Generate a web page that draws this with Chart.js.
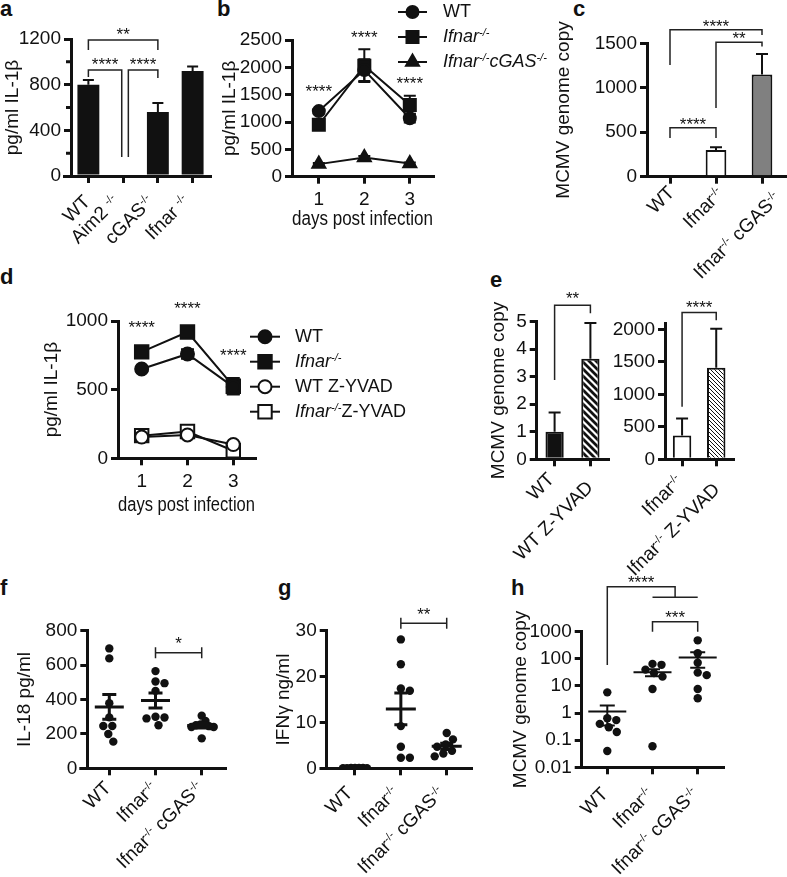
<!DOCTYPE html>
<html><head><meta charset="utf-8">
<script src="https://cdn.jsdelivr.net/npm/chart.js@4.4.1/dist/chart.umd.min.js"></script>
<style>
html,body{margin:0;padding:0;background:#fff}
body{position:relative;width:787px;height:877px;overflow:hidden;font-family:"Liberation Sans",Arial,sans-serif}
canvas{position:absolute}
.pl{position:absolute;font-weight:bold;font-size:22px;line-height:22px;color:#111}
</style></head><body>
<div class="pl" style="left:0px;top:-2px">a</div>
<div class="pl" style="left:217px;top:-2px">b</div>
<div class="pl" style="left:573px;top:-2px">c</div>
<div class="pl" style="left:0px;top:266px">d</div>
<div class="pl" style="left:490px;top:269px">e</div>
<div class="pl" style="left:0px;top:577px">f</div>
<div class="pl" style="left:278px;top:577px">g</div>
<div class="pl" style="left:511px;top:577px">h</div>
<script>
const FONT = '"Liberation Sans", Arial, Helvetica, sans-serif';
const INK = '#111';
Chart.defaults.font.family = FONT;
Chart.defaults.font.size = 19;
Chart.defaults.color = INK;

// ===================== DATA =====================
// panel a
const aCats = ['WT', 'Aim2 -/-', 'cGAS-/-', 'Ifnar -/-'];
const aIL1b = [800, 0, 560, 920];
const aErr = [40, 0, 80, 40];
const aYTicks = [0, 400, 800, 1200];
const aYMinor = [200, 600, 1000];
const aSig = [
  {x1: 0, x2: 2, y: 1191, l1: 1104, l2: 1104, text: '**'},
  {x1: 0, x2: 0.96, y: 928, l1: 867, l2: 166, text: '****'},
  {x1: 1.15, x2: 2, y: 928, l1: 166, l2: 858, text: '****'}
];
// panel b
const bDays = [1, 2, 3];
const bSeries = ['WT', 'Ifnar-/-', 'Ifnar-/-cGAS-/-'];
const bWT = [1200, 1950, 1070];
const bWTErr = [40, 200, 80];
const bIfnar = [950, 2030, 1310];
const bIfnarErr = [40, 300, 170];
const bIfnarCgas = [230, 350, 240];
const bIfnarCgasErr = [20, 30, 20];
const bYTicks = [0, 500, 1000, 1500, 2000, 2500];
const bStars = [{x: 1, y: 1640, text: '****'}, {x: 2, y: 2628, text: '****'}, {x: 3, y: 1783, text: '****'}];
// panel c
const cCats = ['WT', 'Ifnar-/-', 'Ifnar-/- cGAS-/-'];
const cMCMV = [0, 300, 1150];
const cErr = [0, 30, 230];
const cYTicks = [0, 500, 1000, 1500];
const cSig = [
  {x1: 0, x2: 2, y: 1651, l1: 1257, l2: 1594, text: '****'},
  {x1: 1, x2: 2, y: 1512, l1: 773, l2: 1463, text: '**'},
  {x1: 0, x2: 1, y: 551, l1: 435, l2: 435, text: '****'}
];
// panel d
const dDays = [1, 2, 3];
const dSeries = ['WT', 'Ifnar-/-', 'WT Z-YVAD', 'Ifnar-/-Z-YVAD'];
const dWT = [650, 760, 520];     const dWTErr = [15, 35, 50];
const dIfnar = [775, 920, 525];  const dIfnarErr = [15, 15, 60];
const dWTz = [155, 170, 100];    const dWTzErr = [10, 15, 10];
const dIfnarZ = [165, 195, 55];  const dIfnarZErr = [10, 10, 10];
const dYTicks = [0, 500, 1000];
const dStars = [{x: 1, y: 983, text: '****'}, {x: 2, y: 1124, text: '****'}, {x: 3, y: 781, text: '****'}];
// panel e
const e1Cats = ['WT', 'WT Z-YVAD'];
const e1MCMV = [1.0, 3.65];
const e1Err = [0.7, 1.3];
const e1YTicks = [0, 1, 2, 3, 4, 5];
const e1Sig = [{x1: 0, x2: 1, y: 5.6, l1: 2.88, l2: 5.31, text: '**'}];
const e2Cats = ['Ifnar-/-', 'Ifnar-/- Z-YVAD'];
const e2MCMV = [365, 1410];
const e2Err = [265, 600];
const e2YTicks = [0, 500, 1000, 1500, 2000];
const e2Sig = [{x1: 0, x2: 1, y: 2262, l1: 809, l2: 2143, text: '****'}];
// panels f, g, h
const fghCats = ['WT', 'Ifnar-/-', 'Ifnar-/- cGAS-/-'];
const fWT = [697, 639, 378, 296, 246, 246, 199, 155];
const fIfnar = [565, 505, 495, 450, 300, 295, 290, 250];
const fIfnarCgas = [306, 275, 255, 250, 245, 240, 240, 174];
const fYTicks = [0, 200, 400, 600, 800];
const fSig = [{x1: 1, x2: 2, y: 672, kind: 'H', text: '*'}];
const gWT = [0.10, 0.05, 0.08, 0.02, 0.06, 0.03, 0.04];
const gIfnar = [28.1, 22.7, 17.4, 16.9, 9.2, 4.7, 2.3, 2.3];
const gIfnarCgas = [7.7, 6.3, 5.2, 4.7, 3.8, 3.2, 2.6];
const gYTicks = [0, 10, 20, 30];
const gSig = [{x1: 1, x2: 2, y: 31.6, kind: 'H', text: '**'}];
const hWT = [5.8, 0.64, 0.55, 0.4, 0.3, 0.2, 0.04];
const hIfnar = [65, 60, 40, 30, 22, 7.7, 0.06];
const hIfnarCgas = [480, 160, 72, 31, 25, 7.7, 3.5];
const hYTicks = [0.01, 0.1, 1, 10, 100, 1000];
const hSig = [
  {x1: 0, x2: 1.5, y: 45700, l1: 59, l2: 18600, text: '****'},
  {x1: 1, x2: 2, y: 18600, kind: 'line'},
  {x1: 1, x2: 2, y: 2340, l1: 1000, l2: 1000, text: '***'}
];

// ===================== HELPERS =====================
const decoMap = {};
function fontStr(fs, it) { return (it ? 'italic ' : '') + fs + 'px ' + FONT; }
function richSegs(text, italicGenes) {
  const parts = text.split('-/-'); const segs = [];
  parts.forEach((p, i) => {
    if (p) {
      if (italicGenes) {
        p.split(/(Ifnar|cGAS|Aim2)/).forEach(w => { if (w) segs.push({t: w, it: /^(Ifnar|cGAS|Aim2)$/.test(w)}); });
      } else segs.push({t: p});
    }
    if (i < parts.length - 1) segs.push({t: '-/-', sup: true, it: !!italicGenes});
  });
  return segs;
}
function richWidth(ctx, text, fs, italicGenes) {
  let w = 0;
  richSegs(text, italicGenes).forEach(s => { ctx.font = fontStr(s.sup ? Math.round(fs * 0.6) : fs, s.it); w += ctx.measureText(s.t).width; });
  return w;
}
function drawRich(ctx, text, x, y, fs, align, italicGenes) {
  const segs = richSegs(text, italicGenes);
  let w = 0;
  segs.forEach(s => { ctx.font = fontStr(s.sup ? Math.round(fs * 0.6) : fs, s.it); s.w = ctx.measureText(s.t).width; w += s.w; });
  let cx = align === 'right' ? x - w : x;
  ctx.textAlign = 'left';
  segs.forEach(s => {
    ctx.font = fontStr(s.sup ? Math.round(fs * 0.6) : fs, s.it);
    ctx.fillText(s.t, cx, s.sup ? y - fs * 0.22 : y);
    cx += s.w;
  });
}
function drawStars(ctx, text, cx, cy, fs) {
  ctx.font = fontStr(fs, false); ctx.textAlign = 'center'; ctx.textBaseline = 'alphabetic';
  ctx.fillStyle = INK; ctx.fillText(text, cx, cy + 0.58 * fs);
}
function alignPx(p, w) { return Math.round(p - w / 2) + w / 2; }

Chart.register({
  id: 'deco',
  beforeDatasetsDraw(chart) {
    const d = decoMap[chart.canvas.id]; if (!d) return;
    const ctx = chart.ctx, ys = chart.scales.y, a = chart.chartArea;
    ctx.save();
    ctx.strokeStyle = INK; ctx.fillStyle = INK;
    if (d.ext) {
      ctx.lineWidth = 3; ctx.beginPath();
      const yb = alignPx(a.bottom, 3);
      ctx.moveTo(a.left - d.ext, yb); ctx.lineTo(a.left, yb); ctx.stroke();
    }
    if (d.minor) {
      ctx.lineWidth = 3; ctx.beginPath();
      d.minor.forEach(v => { const y = ys.getPixelForValue(v); ctx.moveTo(a.left - 5, y); ctx.lineTo(a.left, y); });
      ctx.stroke();
    }
    // error bars
    chart.data.datasets.forEach((ds, di) => {
      if (!ds.errors) return;
      const meta = chart.getDatasetMeta(di);
      meta.data.forEach((el, i) => {
        const raw = ds.data[i]; const v = (raw && typeof raw === 'object') ? raw.y : raw;
        const e = ds.errors[i]; if (!e) return;
        const x = el.x, yTop = ys.getPixelForValue(v + e);
        const yBot = ds.errBoth ? ys.getPixelForValue(v - e) : el.y;
        const cw = (d.capW || 12) / 2;
        ctx.lineWidth = 2; ctx.beginPath();
        ctx.moveTo(x, yBot); ctx.lineTo(x, yTop);
        ctx.moveTo(x - cw, yTop); ctx.lineTo(x + cw, yTop);
        if (ds.errBoth) { ctx.moveTo(x - cw, yBot); ctx.lineTo(x + cw, yBot); }
        ctx.stroke();
      });
    });
    ctx.restore();
  },
  afterDatasetsDraw(chart) {
    const d = decoMap[chart.canvas.id]; if (!d) return;
    const ctx = chart.ctx, xs = chart.scales.x, ys = chart.scales.y, a = chart.chartArea;
    ctx.save();
    ctx.strokeStyle = INK; ctx.fillStyle = INK;
    // mean +/- SEM for dot plots
    if (d.groups) {
      const st = d.stats;
      d.groups.forEach((vals, gi) => {
        const n = vals.length; const m = vals.reduce((s, v) => s + v, 0) / n;
        const sd = Math.sqrt(vals.reduce((s, v) => s + (v - m) * (v - m), 0) / (n - 1));
        const sem = sd / Math.sqrt(n);
        const x = xs.getPixelForValue(gi), ym = ys.getPixelForValue(m);
        const yt = ys.getPixelForValue(m + sem), yb = ys.getPixelForValue(Math.max(m - sem, 1e-6));
        ctx.lineWidth = st.lw; ctx.beginPath();
        ctx.moveTo(x - st.meanW / 2, ym); ctx.lineTo(x + st.meanW / 2, ym);
        ctx.moveTo(x, yt); ctx.lineTo(x, yb);
        ctx.moveTo(x - st.capW / 2, yt); ctx.lineTo(x + st.capW / 2, yt);
        ctx.moveTo(x - st.capW / 2, yb); ctx.lineTo(x + st.capW / 2, yb);
        ctx.stroke();
      });
    }
    // significance brackets
    if (d.sig) {
      ctx.lineWidth = 1.5; ctx.strokeStyle = '#222';
      d.sig.forEach(b => {
        const x1 = xs.getPixelForValue(b.x1), x2 = xs.getPixelForValue(b.x2), y = ys.getPixelForValue(b.y);
        ctx.beginPath();
        if (b.kind === 'H') {
          ctx.moveTo(x1, y); ctx.lineTo(x2, y);
          ctx.moveTo(x1, y - 5.5); ctx.lineTo(x1, y + 5.5);
          ctx.moveTo(x2, y - 5.5); ctx.lineTo(x2, y + 5.5);
        } else if (b.kind === 'line') {
          ctx.moveTo(x1, y); ctx.lineTo(x2, y);
        } else {
          ctx.moveTo(x1, ys.getPixelForValue(b.l1)); ctx.lineTo(x1, y); ctx.lineTo(x2, y); ctx.lineTo(x2, ys.getPixelForValue(b.l2));
        }
        ctx.stroke();
        if (b.text) drawStars(ctx, b.text, (x1 + x2) / 2, y - d.starGap, 17);
      });
    }
    if (d.stars) d.stars.forEach(s => drawStars(ctx, s.text, xs.getPixelForValue(s.x), ys.getPixelForValue(s.y), 17));
    // rotated category labels
    if (d.xLabels) {
      const xl = d.xLabels;
      ctx.fillStyle = INK;
      xl.labels.forEach((lab, i) => {
        const w = richWidth(ctx, lab, xl.fs, false);
        const x = xs.getPixelForValue(i) + xl.dx + (xl.kx || 0) * w;
        const y = a.bottom + xl.dy + (xl.ky || 0) * w;
        ctx.save(); ctx.translate(x, y); ctx.rotate(-Math.PI / 4);
        ctx.textBaseline = 'middle';
        drawRich(ctx, lab, 0, 0, xl.fs, 'right', false);
        ctx.restore();
      });
    }
    // legend
    if (d.legend) {
      const lg = d.legend;
      chart.data.datasets.forEach((ds, i) => {
        const y = lg.y + i * lg.dy - d.T, x0 = lg.x - d.L;
        ctx.strokeStyle = INK; ctx.lineWidth = 2;
        ctx.beginPath(); ctx.moveTo(x0, y); ctx.lineTo(x0 + lg.len, y); ctx.stroke();
        ctx.fillStyle = ds.pointBackgroundColor;
        Chart.helpers.drawPoint(ctx, {pointStyle: ds.pointStyle, radius: ds.pointRadius, rotation: 0, borderWidth: ds.pointBorderWidth}, x0 + lg.len / 2, y);
        ctx.fillStyle = INK; ctx.textBaseline = 'middle';
        drawRich(ctx, ds.label, x0 + lg.len + lg.gap, y, lg.fs, 'left', true);
      });
    }
    ctx.restore();
  }
});

const GRID = {drawOnChartArea: false, drawTicks: true, tickLength: 7, tickWidth: 3, lineWidth: 3, tickColor: INK, color: INK};
const BORDER = {display: true, width: 3, color: INK};
function yLin(o) {
  return {
    type: o.log ? 'logarithmic' : 'linear', min: o.min, max: o.max,
    border: BORDER, grid: Object.assign({}, GRID),
    ticks: {font: {size: 19}, color: INK, padding: 3, callback: v => String(v)},
    title: o.title ? {display: true, text: o.title, font: {size: 19}, color: INK, padding: 0} : {display: false},
    afterBuildTicks: s => { s.ticks = o.ticks.map(v => ({value: v})); }
  };
}
function xCat() {
  return {type: 'category', offset: true, border: BORDER, grid: Object.assign({}, GRID, {offset: false}), ticks: {display: false}};
}
function xLin(o) {
  return {
    type: 'linear', min: o.min, max: o.max, border: BORDER, grid: Object.assign({}, GRID),
    ticks: {display: !!o.show, font: {size: 19}, color: INK, padding: 5, maxRotation: 0, minRotation: 0, autoSkip: false, callback: v => String(v)},
    title: o.title ? {display: true, text: o.title, font: {size: 20}, color: INK, padding: 0} : {display: false},
    afterBuildTicks: s => { s.ticks = o.ticks.map(v => ({value: v})); }
  };
}
function base(x, y) {
  return {responsive: false, animation: false, events: [], devicePixelRatio: 1,
    plugins: {legend: {display: false}, tooltip: {enabled: false}}, scales: {x: x, y: y}};
}
function mk(id, L, T, W, H, area, padL, config, deco) {
  const c = document.createElement('canvas');
  c.id = id; c.width = W; c.height = H;
  c.style.left = L + 'px'; c.style.top = T + 'px';
  document.body.appendChild(c);
  const yw = area.l - L - padL, xh = T + H - area.b;
  config.options.layout = {autoPadding: false, padding: {left: padL, top: area.t - T, right: L + W - area.r, bottom: 0}};
  config.options.scales.x.afterFit = s => { s.height = xh; };
  config.options.scales.y.afterFit = s => { s.width = yw; };
  deco.L = L; deco.T = T;
  decoMap[id] = deco;
  return new Chart(c, config);
}
function hatch(p, lw) {
  const c = document.createElement('canvas'); c.width = c.height = p;
  const x = c.getContext('2d');
  x.fillStyle = '#fff'; x.fillRect(0, 0, p, p);
  x.strokeStyle = INK; x.lineWidth = lw; x.beginPath();
  x.moveTo(-2, -2); x.lineTo(p + 2, p + 2);
  x.moveTo(-2, p - 2); x.lineTo(2, p + 2);
  x.moveTo(p - 2, -2); x.lineTo(p + 2, 2);
  x.stroke();
  return x.createPattern(c, 'repeat');
}
function xy(xsArr, ysArr) { return xsArr.map((v, i) => ({x: v, y: ysArr[i]})); }
function swarm(vals, yPix, diam, maxHalf) {
  const order = vals.map((v, i) => i).sort((p, q) => yPix(vals[p]) - yPix(vals[q]));
  const placed = [], off = new Array(vals.length).fill(0);
  order.forEach(i => {
    const y = yPix(vals[i]); let best = 0;
    for (let k = 0; k < 600; k++) {
      const cand = (k % 2 === 1 ? 1 : -1) * Math.ceil(k / 2) * 0.5;
      if (placed.every(p => Math.hypot(p.x - cand, p.y - y) >= diam)) { best = cand; break; }
    }
    off[i] = best; placed.push({x: best, y: y});
  });
  const mx = Math.max(...off.map(Math.abs));
  if (mx > maxHalf) for (let i = 0; i < off.length; i++) off[i] *= maxHalf / mx;
  return off;
}
function dotPlot(id, L, T, W, H, area, padL, o, deco) {
  const pxPerX = (area.r - area.l) / (o.xmax - o.xmin);
  const yPix = o.log
    ? v => area.b - (Math.log10(v) - Math.log10(o.ymin)) / (Math.log10(o.ymax) - Math.log10(o.ymin)) * (area.b - area.t)
    : v => area.b - (v - o.ymin) / (o.ymax - o.ymin) * (area.b - area.t);
  const datasets = o.groups.map((vals, gi) => {
    const off = swarm(vals, yPix, 9, 12);
    return {data: vals.map((v, i) => ({x: gi + off[i] / pxPerX, y: v})), pointRadius: 4.2, pointBackgroundColor: INK, pointBorderWidth: 0, showLine: false};
  });
  deco.groups = o.groups;
  return mk(id, L, T, W, H, area, padL, {
    type: 'scatter', data: {datasets: datasets},
    options: base(xLin({min: o.xmin, max: o.xmax, ticks: [0, 1, 2], show: false}),
                  yLin({min: o.ymin, max: o.ymax, ticks: o.ticks, title: o.title, log: o.log}))
  }, deco);
}

// ===================== CHARTS =====================
// a
mk('ca', 0, 0, 215, 272, {l: 71, t: 39, r: 210, b: 176}, 1, {
  type: 'bar',
  data: {labels: aCats, datasets: [{data: aIL1b, errors: aErr, backgroundColor: INK, borderWidth: 0, barPercentage: 0.63, categoryPercentage: 1}]},
  options: base(xCat(), yLin({min: 0, max: 1200, ticks: aYTicks, title: 'pg/ml IL-1β'}))
}, {ext: 8, minor: aYMinor, capW: 11, sig: aSig, starGap: 10, xLabels: {labels: aCats, fs: 19, dx: 5, kx: -0.2, dy: 23}});

// b
const lineDs = (label, x, y, err, style, r, fill) => ({
  label: label, data: xy(x, y), errors: err, errBoth: true, borderColor: INK, borderWidth: 2, fill: false, tension: 0,
  pointStyle: style, pointRadius: r, pointBackgroundColor: fill, pointBorderColor: INK, pointBorderWidth: 2
});
mk('cb', 215, 0, 345, 231, {l: 292, t: 40, r: 433, b: 176.7}, 3, {
  type: 'line',
  data: {datasets: [
    lineDs(bSeries[0], bDays, bWT, bWTErr, 'circle', 6, INK),
    lineDs(bSeries[1], bDays, bIfnar, bIfnarErr, 'rect', 8.5, INK),
    lineDs(bSeries[2], bDays, bIfnarCgas, bIfnarCgasErr, 'triangle', 7.5, INK)
  ]},
  options: base(xLin({min: 0.41, max: 3.51, ticks: bDays, show: true, title: 'days post infection'}),
                yLin({min: 0, max: 2500, ticks: bYTicks, title: 'pg/ml IL-1β'}))
}, {ext: 4, capW: 12, stars: bStars, legend: {x: 398, y: 12, dy: 25, len: 29, gap: 16, fs: 18}});

// c
mk('cc', 550, 0, 237, 293, {l: 647, t: 43.3, r: 785, b: 176.7}, 2, {
  type: 'bar',
  data: {labels: cCats, datasets: [{data: cMCMV, errors: cErr, backgroundColor: ['#fff', '#fff', '#808080'], borderColor: INK, borderWidth: 2, barPercentage: 0.45, categoryPercentage: 1}]},
  options: base(xCat(), yLin({min: 0, max: 1500, ticks: cYTicks, title: 'MCMV genome copy'}))
}, {ext: 5, capW: 12, sig: cSig, starGap: 8, xLabels: {labels: cCats, fs: 19, dx: -3, kx: 0.165, dy: 11.3, ky: 0.067}});

// d
mk('cd', 30, 280, 390, 237, {l: 118, t: 321, r: 255, b: 458.3}, 10.3, {
  type: 'line',
  data: {datasets: [
    lineDs(dSeries[0], dDays, dWT, dWTErr, 'circle', 6.5, INK),
    lineDs(dSeries[1], dDays, dIfnar, dIfnarErr, 'rect', 9.5, INK),
    lineDs(dSeries[2], dDays, dWTz, dWTzErr, 'circle', 6.5, '#fff'),
    lineDs(dSeries[3], dDays, dIfnarZ, dIfnarZErr, 'rect', 9.5, '#fff')
  ]},
  options: base(xLin({min: 0.483, max: 3.474, ticks: dDays, show: true, title: 'days post infection'}),
                yLin({min: 0, max: 1000, ticks: dYTicks, title: 'pg/ml IL-1β'}))
}, {ext: 6, capW: 13, stars: dStars, legend: {x: 250, y: 336.7, dy: 25, len: 30, gap: 15, fs: 18}});

// e (two sub-panels)
mk('ce1', 480, 280, 135, 300, {l: 536.7, t: 321.7, r: 608.3, b: 459.3}, 6.9, {
  type: 'bar',
  data: {labels: e1Cats, datasets: [{data: e1MCMV, errors: e1Err, backgroundColor: [INK, hatch(7, 2.8)], borderColor: INK, borderWidth: 2, barPercentage: 0.51, categoryPercentage: 1}]},
  options: base(xCat(), yLin({min: 0, max: 5, ticks: e1YTicks, title: 'MCMV genome copy'}))
}, {ext: 5, capW: 12, sig: e1Sig, starGap: 11, xLabels: {labels: e1Cats, fs: 19, dx: -4.2, kx: 0.04, dy: 14.1, ky: 0.11}});
mk('ce2', 605, 280, 182, 300, {l: 665, t: 323, r: 733.3, b: 459.3}, 0, {
  type: 'bar',
  data: {labels: e2Cats, datasets: [{data: e2MCMV, errors: e2Err, backgroundColor: ['#fff', hatch(4, 1)], borderColor: INK, borderWidth: 2, barPercentage: 0.54, categoryPercentage: 1}]},
  options: base(xCat(), yLin({min: 0, max: 2100, ticks: e2YTicks}))
}, {ext: 5, capW: 12, sig: e2Sig, starGap: 9, xLabels: {labels: e2Cats, fs: 19, dx: -4.2, kx: 0.04, dy: 14.1, ky: 0.11}});

// f
dotPlot('cf', 0, 600, 235, 277, {l: 87.3, t: 630.7, r: 225, b: 768.3}, 13.6,
  {groups: [fWT, fIfnar, fIfnarCgas], xmin: -0.476, xmax: 2.504, ymin: 0, ymax: 800, ticks: fYTicks, title: 'IL-18 pg/ml'},
  {ext: 8, stats: {meanW: 29, capW: 14, lw: 3}, sig: fSig, starGap: 14, xLabels: {labels: fghCats, fs: 19, dx: -1, dy: 17}});
// g
dotPlot('cg', 260, 600, 230, 277, {l: 326.7, t: 630.7, r: 471.7, b: 768.3}, 11.9,
  {groups: [gWT, gIfnar, gIfnarCgas], xmin: -0.617, xmax: 2.545, ymin: 0, ymax: 30, ticks: gYTicks, title: 'IFNγ ng/ml'},
  {ext: 7, stats: {meanW: 30, capW: 13, lw: 3}, sig: gSig, starGap: 13, xLabels: {labels: fghCats, fs: 19, dx: -5, dy: 22}});
// h
dotPlot('ch', 500, 570, 287, 307, {l: 581.7, t: 631.7, r: 723.3, b: 767.3}, 9.6,
  {groups: [hWT, hIfnar, hIfnarCgas], xmin: -0.566, xmax: 2.566, ymin: 0.01, ymax: 1000, log: true, ticks: hYTicks, title: 'MCMV genome copy'},
  {ext: 5, stats: {meanW: 38, capW: 15, lw: 2}, sig: hSig, starGap: 8.5, xLabels: {labels: fghCats, fs: 19, dx: -2, dy: 24}});
</script>
</body></html>
